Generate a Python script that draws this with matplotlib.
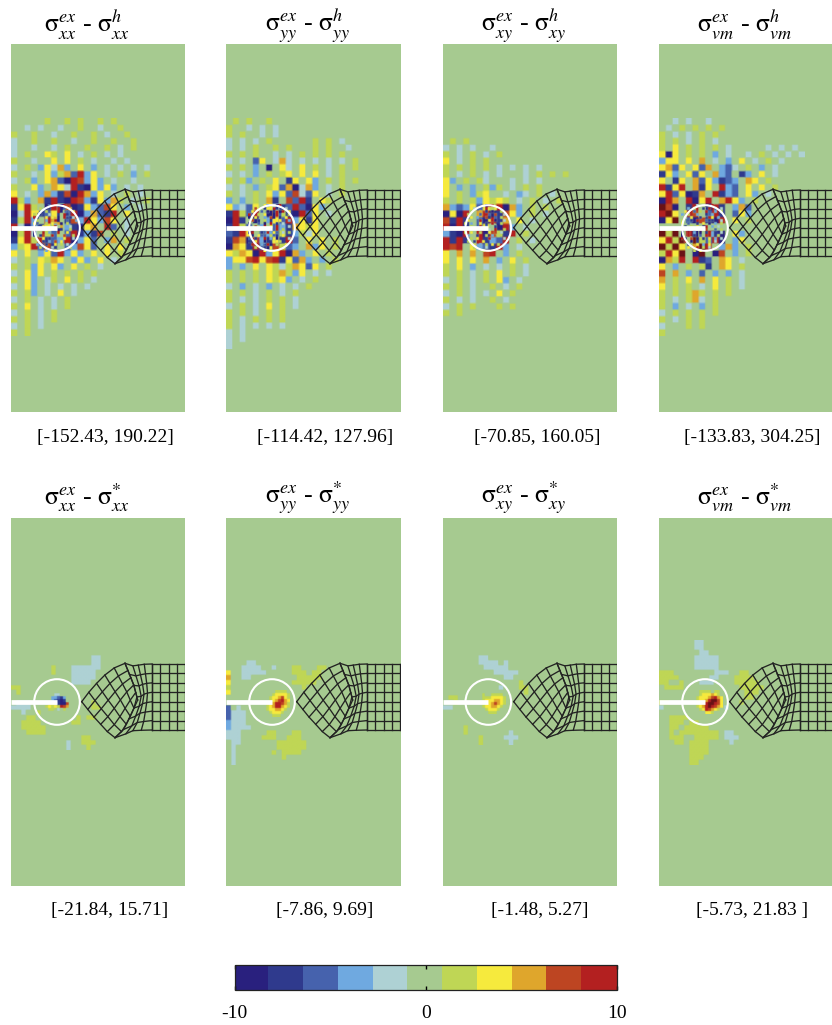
#!/usr/bin/env python3
"""Stress error maps: standard vs recovered stress on the cracked plate mesh."""

import matplotlib
matplotlib.use("Agg")
import matplotlib.pyplot as plt
import numpy as np
from matplotlib.cm import ScalarMappable
from matplotlib.colors import BoundaryNorm, ListedColormap

plt.rcParams["font.family"] = ["Liberation Serif", "DejaVu Serif"]
plt.rcParams["mathtext.fontset"] = "stix"

BAND_COLORS = ["#29207e", "#2f3a8d", "#4662ad", "#6fa9e0", "#aed1d4", "#a6ca90",
               "#bfd655", "#f6ea3d", "#dfa62c", "#bd4522", "#b32020"]
BAND_EDGES = np.linspace(-10, 10, 12)
COLORBAR_TICKS = [-10, 0, 10]
COLORBAR_LABELS = ["-10", "0", "10"]

SIGMA = r"\mathrm{\sigma}"
COMPONENTS = ["xx", "yy", "xy", "vm"]
TOP_TITLES = [rf"${SIGMA}_{{{c}}}^{{ex}}$ - ${SIGMA}_{{{c}}}^{{h}}$" for c in COMPONENTS]
BOTTOM_TITLES = [rf"${SIGMA}_{{{c}}}^{{ex}}$ - ${SIGMA}_{{{c}}}^{{*}}$" for c in COMPONENTS]
TOP_RANGES = ["[-152.43, 190.22]", "[-114.42, 127.96]", "[-70.85, 160.05]", "[-133.83, 304.25]"]
BOTTOM_RANGES = ["[-21.84, 15.71]", "[-7.86, 9.69]", "[-1.48, 5.27]", "[-5.73, 21.83 ]"]

# cell maps, one letter per element: a..e negative bands, . zero, f..j positive bands, k beyond +10
TOP_COARSE = [
    [
        ".....f..f.f..f.f",
        "..e.e..e..f..e..f",
        "f..f..e..f..f.e..f",
        "e..f..f..e..f..f..f",
        "e..e..e.f..f..f.e.f",
        "e.f..gf.g.e.f.e.e",
        "f..e..g.g.f.e..e.e",
        "e.f.dgehd.g.d.e.e.e.e",
        "f..e.gdfhcjdg.e.f.d.f",
        "e.fd.ghcajidgd.e..e",
        "f..gd.hgejbagdgd.e.e",
        "g.e.dhdbiajhdg.e.f.e",
        "jfd.hbjbajidbgdhf.e.f",
        "bgjf.aj.iabgdcig.d.e",
        "aejgbcg.cjadhcbj.g",
        "bfjd.jh.bidjgdig.e",
        "jeadbgd.dbagh.jc.e",
        "afje.fc.cjbdbi.f.e",
        "bgjfjbcdjadgc.dh.f",
        "dfgjcib.cdigc.g.g",
        "g.g.dgcjdgd.g.g.f",
        "e.f.gfhg.dgd.g.e",
        "f.fdg.gd.g.f.e",
        "e.gdg.f.f.f.f",
        "f.gd.ef.g.f.e",
        "e.gd.e.e.e.e",
        "f.fd.e.g.e",
        "e.f.e.e.f",
        "f.g.e.e.f",
        "e.f.e.f",
        "f.f.e.f",
        "e.f.e",
        "f.f",
    ],
    [
        ".f.f..f",
        "f..e.e.e",
        "f.f..e.e",
        "e.e.e.f......f.f.e",
        "e.e.f..f.f...f.f..e",
        "f.f.f..e.e.f.f.f.f",
        "e.e.cg.ehe.e.e.e.e.f",
        "f.f.d.a.ge.g.f.e.f.f",
        "e.e.d.f.fg.g.g.e.f",
        "f.fd.f.g.bg.gd.f.f.f",
        "e.e.d.fgchaehd.e.f",
        "f.e.f.gdgciecg.e.f",
        "d.d.f.hb.icjb.gf",
        "gdecg.gebcjcagd",
        "bjfcj.ajfbajcg.e",
        "ajb.a.dgcjdgbg",
        "bjfc.d.cdbhgfg.",
        "cbjg.cdcfbdfeg",
        "bihajdbgbjc.g.g.f",
        "ahgbjcaifcd.hdg.f",
        "gfhgajdgjahd.g.f",
        "dggijgijbgchd.d.f",
        "d.d.g.gfefhgcg.f",
        "f.f.f.gfhfdg.e.e",
        "f.f.f.gfgd.e.f",
        "e.d.e.d.e.e.f",
        "f.f.e.f.e.f",
        "f.e.e.f.f.e",
        "e.f.e.g.f.e",
        "f.f.e.f.f.",
        "f.e.f.f.f",
        "f.e.e.e.e",
        "e.e.",
        "e.e.",
        "e",
    ],
    [
        "",
        "",
        "",
        ".f.f",
        "e.e.e..e",
        "f.e.f.e.f",
        "g.e.f.f",
        "f.f.f.f.e.e.e.e",
        "f.e.f.e.e...e.f.f.f",
        "gd.f.fe...e.e.e",
        "g.d.d.fdf.e.f.f",
        "g.f.dfg..e.de.f.e",
        "f.f.fdgfgf.e.f.e.f",
        "hdcdgcgfjahd.f.f",
        "agaj.hjabigd.f.e",
        "ibjb.cajbh.g.e",
        "jajb.cg.ajd.e.",
        "dbaj.jaifbj.f",
        "jbjb.jbdcj.f.e",
        "jij.gdcbjd.e",
        "g.h.h.ij.d.f",
        "g.g.g.h.d.g.f",
        "f.g.d.e.e.f.e",
        "f.f.e.f.g.f.e",
        "e.f.e.f.gd.e",
        "f.f.e..f.e.f",
        "e.f.e.e.g.f",
        "f.e.e..f.e.",
        "e.f.f...f.f",
        "f.f.",
        "",
    ],
    [
        "..e.e..e",
        ".e.f.f.f.f",
        "f.e.e.f.f",
        "f.f.e.f.e",
        "f.g.f.f.f.e.....e.e.e.e",
        "gag.f.f.d.e..e.f.e.e.e",
        "dgg.g.h.e.d.g.e.f.e",
        "ghcg.gch.dce.f.d.e",
        "bgd.gcg.hdc.bd.g.e",
        "g.bg.hcgdbcd.hg.f",
        "jbgj.hbg.jdc.g.g.f",
        "gjcgabh.jbdc.gd.e",
        "ajh.jagj.hjgd.f",
        "kia.bj.ajb.dhc",
        "jkg.ji.cjb.cgd",
        "agk.caibaj.g.f",
        "",
        "kfk.ja.jba.gd",
        "gjfk.kfcja.dg",
        "kfkg.hkj.dhd.f",
        "fjgk.ak.ai.d.f",
        "ahfj.jbc.hg.e",
        "g.d.f.fb.hg.f",
        "i.h.d.c.d.d.e",
        "h.f.g.h.g.f.e",
        "g.f.f.e.g.f.e",
        "f.f.fhf.f.f",
        "f.e.fhe.f.",
        "f.d.e.d.f",
        "e.f.f.f.f",
        "f.e.f.f",
        "e...f.f",
        "f.",
    ],
]
TOP_FINE = [
    [
        ".....c..baj.....",
        "..f..b..jac.h...",
        ".g..f...ja.c.g..",
        "f.b..e..b.jb....",
        "jb..g.g.a.j.be..",
        ".f..d..ja..c..d.",
        "gc..f.g.ha.f....",
        "b..g..fj.h..e...",
        "j.d..g..ab..f...",
        "a..j.d..j..g....",
        "b.bi..j.f.i..f..",
        ".j.g.b..d.g..e..",
        "f..b.d.i.g......",
        ".d..b..g.f.e....",
        "..f...e.....f...",
        "....d..f........",
    ],
    [
        ".....gd..aj.....",
        "..i..b..jb..e...",
        ".g..c.a.b.aj.g..",
        "j..f.g..a.c..f..",
        "a.g..d.ia.b.g...",
        ".i.b.f.b..g..d..",
        "b..c.a.j.b.e....",
        "c.i..j.g.j.d.e..",
        ".a.g.c.a.j.f....",
        "bj..b.j.g..e.f..",
        ".a.g.c.f.b.g....",
        "c.b..j.d.a...e..",
        "b.g..a..g.f.....",
        ".j..d.j..f..g...",
        "..f..b.g........",
        ".....g.f........",
    ],
    [
        ".......aji......",
        "...e...j..g.....",
        "..f..h.b.a..f...",
        ".f...c..c.i..e..",
        "..g.d..ib.c.f...",
        ".g...j..g.a..e..",
        "f.d..g.b.j..f...",
        "..f..j.c..b.....",
        "g.......e.j..f..",
        "f.g..f..g.i.e...",
        ".d..b..f.d.f....",
        "..f.g...j....e..",
        ".f.b..g.........",
        "..g..d.f.g.f....",
        "...f...e........",
        "......f.........",
    ],
    [
        ".....e..a.j.....",
        "..d.f..b.j.c.e..",
        ".g..c.f.j..d.f..",
        "d.f..d..b.d.....",
        ".e.g..b..jg.d...",
        "f..b.j..c.b..e..",
        "g.c..b.g.a.d.f..",
        ".b.f.g.bj.d.e...",
        "j.a.b.j.i..c.f..",
        "b.j.d.a.b.d..e..",
        "a.j.b.c.j.d.f...",
        "jb.i.a.b.g.d.e..",
        ".j.a.b.f.f.e....",
        "..b..g.d.g......",
        "..g..j.f.e.f....",
        "....f.g.........",
    ],
]
BOTTOM_COARSE = [
    [
        "",
        "",
        "",
        "................ee",
        "................ee",
        "........f...eeeeee",
        "........f...eeeee",
        "............eeeee",
        "............eeee",
        "ff...............",
        ".f.",
        "",
        ".eee............f",
        "eeee....f.......ff",
        "..e..f...",
        "...ff........f.ff",
        "..ffff......ff",
        "..fffff",
        "...ffff",
        "..............ff",
        "...........e..fff",
        "...........e...f",
    ],
    [
        "",
        "",
        "",
        "",
        "....ee.......",
        "...eeee..e...ff...ff",
        "g..eeeee.....fff.ff",
        "h..ee.........fffff",
        "g............fffff",
        "f..............f",
        "g",
        "",
        "",
        "c.e",
        "ceee",
        "ceee",
        "deee",
        "deeee..",
        "eee.....ff...ff",
        "eee....fff..fff",
        ".ee.......ffffff",
        ".e........ffffff",
        ".e.......f.ffff",
        ".e.........f",
        ".e",
    ],
    [
        "",
        "",
        "",
        ".......ee",
        ".......eeee.e",
        "........eeeee",
        "..........eeeee",
        "............ee",
        "...............f",
        "...........e...ff",
        "................f",
        ".ff",
        "..f",
        "ee",
        "",
        "",
        "",
        "....f",
        "....f........e",
        ".......f....eee",
        ".......f.....e",
    ],
    [
        ".......ee",
        ".......ee",
        "........ee",
        ".......eeeee",
        ".......eeeee",
        ".......eeeee",
        "fff........eee..ff",
        "ffff......ee...ffff",
        "ff..f...eee....fffff",
        ".ffff...........fffff",
        ".................fff",
        ".................ff",
        "ff..............f",
        "e............e",
        ".",
        "..ffff",
        "..fff.ff.....",
        "..ff.fffff",
        "..f.ffffffff.ee",
        "..fff..fffff.eee",
        "...ff.ffff....e",
        "......ffff",
        "......ffff",
        "......fff",
        "......ff",
    ],
]
BOTTOM_FINE = [
    [
        "...........",
        "....ee.....",
        "...ddcbd...",
        "...dcbab...",
        "..fgebaai..",
        ".fgfgfjih..",
        "..ff.e.f...",
        "...........",
    ],
    [
        "......ffff.",
        ".....fggggf",
        "....fgghigf",
        "....fghijhg",
        "...fghjjihf",
        "...fghjjhgf",
        "...fgghhgf.",
        "....fgggf..",
        ".....fff...",
    ],
    [
        "...........",
        "...f..ffff.",
        "...fffggggf",
        "...fggghhgf",
        "...fgghihgf",
        "...fgghhgf.",
        "....fgggf..",
        ".....fff...",
    ],
    [
        "...ffff.ff.",
        "...fggghgf.",
        "..fggghijhg",
        "..fgghjkkig",
        "..fghjkkjig",
        "..fghjkjihg",
        "...fgjihgf.",
        ".....ggf...",
    ],
]

# mesh outline points, in pixels from the panel's top left corner
TIP_TO_UPPER = [(70.7, 183.7), (79, 172.7), (88, 162.7), (96.3, 154.7), (105, 148.7), (114, 145.3)]
TIP_TO_LOWER = [(70.7, 183.7), (77.3, 192), (84, 200.3), (91.3, 208), (97.3, 214.7), (104, 219.7)]
UPPER_TO_ELBOW = [(114, 145.3), (118.3, 156), (122.3, 165.3), (126.7, 182)]
LOWER_TO_ELBOW = [(104, 219.7), (112.3, 212), (118.3, 200.3), (126.7, 182)]
FAN_TOP = [(114, 145.3), (122.3, 148), (132.3, 146.3), (141, 146)]
FAN_BOTTOM = [(104, 219.7), (112.3, 217), (122.3, 212.5), (141, 212)]
FAN_LEFT = [(114, 145.3), (118.3, 156), (122.3, 165.3), (126.7, 182), (118.3, 200.3), (112.3, 212), (104, 219.7)]
FAN_RIGHT = [(141, 146), (141, 212)]
FAN_COLUMNS = [0, 0.3, 0.5, 0.72, 1]
BLOCK_TOP = [(141, 146), (174, 146)]
BLOCK_BOTTOM = [(141, 212), (174, 212)]
BLOCK_LEFT = FAN_RIGHT
BLOCK_RIGHT = [(174, 146), (174, 212)]
BLOCK_COLUMNS = [0, 0.25, 0.52, 0.76, 1]

PANEL_LEFTS = [11, 226, 443, 659]
PANEL_WIDTHS = [174, 175, 174, 174]
TOP_ROW_Y = 44
BOTTOM_ROW_Y = 518
TOP_RANGE_X = [105, 325, 537.5, 752]
BOTTOM_RANGE_X = [109.5, 325, 540, 752]
TITLE_X = [87, 308, 524, 745]
TIP_X = [46, 46, 45.3, 46]

FIG_W, FIG_H = 832, 1025
PANEL_H = 368
LEVELS = "abcde.fghijk"

cmap = ListedColormap(BAND_COLORS)
cmap.set_over("#6a1216")
cmap.set_bad(BAND_COLORS[5], 0)
norm = BoundaryNorm(BAND_EDGES, cmap.N)


def cell_values(rows, n_cols):
    grid = np.full((len(rows), n_cols), np.nan)
    for i, row in enumerate(rows):
        for j, ch in enumerate(row[:n_cols]):
            if ch != ".":
                grid[i, j] = (LEVELS.index(ch) - 5) * 20 / 11
    return np.ma.masked_invalid(grid)


def draw_cells(ax, rows, n_cols, x0, y0, size, upsample):
    values = cell_values(rows, n_cols)
    rgba = ScalarMappable(norm=norm, cmap=cmap).to_rgba(values)
    rgba = np.repeat(np.repeat(rgba, upsample, axis=0), upsample, axis=1)
    extent = (x0, x0 + size * n_cols, y0 + size * len(rows), y0)
    ax.imshow(rgba, extent=extent, interpolation="bilinear", aspect="auto", zorder=1)


def resample(points, fractions):
    pts = np.asarray(points, dtype=float)
    seg = np.hypot(*np.diff(pts, axis=0).T)
    dist = np.concatenate([[0], np.cumsum(seg)]) / seg.sum()
    return np.column_stack([np.interp(fractions, dist, pts[:, k]) for k in (0, 1)])


def coons_patch(top, bottom, left, right, u, v):
    """Blend four boundary polylines into grid nodes (rows along v, columns along u)."""
    t, b = resample(top, u), resample(bottom, u)
    l, r = resample(left, v), resample(right, v)
    nodes = np.zeros((len(v), len(u), 2))
    for i, vv in enumerate(v):
        for j, uu in enumerate(u):
            nodes[i, j] = (
                (1 - vv) * t[j] + vv * b[j] + (1 - uu) * l[i] + uu * r[i]
                - ((1 - uu) * (1 - vv) * t[0] + uu * (1 - vv) * t[-1]
                   + (1 - uu) * vv * b[0] + uu * vv * b[-1])
            )
    return nodes


def draw_mesh(ax):
    even = np.linspace(0, 1, 6)
    rows = np.linspace(0, 1, 8)
    patches = [
        coons_patch(TIP_TO_UPPER, LOWER_TO_ELBOW, TIP_TO_LOWER, UPPER_TO_ELBOW, even, even),
        coons_patch(FAN_TOP, FAN_BOTTOM, FAN_LEFT, FAN_RIGHT, np.array(FAN_COLUMNS), rows),
        coons_patch(BLOCK_TOP, BLOCK_BOTTOM, BLOCK_LEFT, BLOCK_RIGHT, np.array(BLOCK_COLUMNS), rows),
    ]
    for nodes in patches:
        ax.plot(nodes[:, :, 0], nodes[:, :, 1], color="#222222", lw=0.95, zorder=3)
        ax.plot(nodes[:, :, 0].T, nodes[:, :, 1].T, color="#222222", lw=0.95, zorder=3)


def panel_axes(fig, left, top, width):
    ax = fig.add_axes([left / FIG_W, 1 - (top + PANEL_H) / FIG_H, width / FIG_W, PANEL_H / FIG_H])
    ax.set_xlim(0, width)
    ax.set_ylim(PANEL_H, 0)
    ax.set_autoscale_on(False)
    ax.axis("off")
    ax.add_patch(plt.Rectangle((0, 0), width, PANEL_H, color=BAND_COLORS[5], lw=0, zorder=0))
    return ax


def decorate(ax, tip_x):
    draw_mesh(ax)
    ax.plot([0, tip_x], [184, 184], color="white", lw=3.4, solid_capstyle="butt", zorder=4)
    ax.add_patch(plt.Circle((tip_x, 184), 22.8, fill=False, ec="white", lw=1.5, zorder=5))


def main():
    fig = plt.figure(figsize=(FIG_W / 100, FIG_H / 100), dpi=100, facecolor="white")
    for k, left in enumerate(PANEL_LEFTS):
        ax = panel_axes(fig, left, TOP_ROW_Y, PANEL_WIDTHS[k])
        draw_cells(ax, TOP_COARSE[k], 22, 0, 74, 6.6, 3)
        draw_cells(ax, TOP_FINE[k], 16, TIP_X[k] - 24, 160, 3, 2)
        decorate(ax, TIP_X[k])

        ax = panel_axes(fig, left, BOTTOM_ROW_Y, PANEL_WIDTHS[k])
        draw_cells(ax, BOTTOM_COARSE[k], 26, 0, 122, 5, 3)
        draw_cells(ax, BOTTOM_FINE[k], 11, TIP_X[k] - 15, 172, 3, 2)
        decorate(ax, TIP_X[k])

        fig.text(TITLE_X[k] / FIG_W, 1 - 25 / FIG_H, TOP_TITLES[k], fontsize=18.5, ha="center", va="center")
        fig.text(TITLE_X[k] / FIG_W, 1 - 498 / FIG_H, BOTTOM_TITLES[k], fontsize=18.5, ha="center", va="center")
        fig.text(TOP_RANGE_X[k] / FIG_W, 1 - 438 / FIG_H, TOP_RANGES[k], fontsize=14, ha="center", va="center")
        fig.text(BOTTOM_RANGE_X[k] / FIG_W, 1 - 911 / FIG_H, BOTTOM_RANGES[k], fontsize=14, ha="center", va="center")

    cax = fig.add_axes([234.5 / FIG_W, 1 - 989.5 / FIG_H, 382.5 / FIG_W, 25 / FIG_H])
    cbar = fig.colorbar(ScalarMappable(norm=norm, cmap=cmap), cax=cax, orientation="horizontal",
                        ticks=COLORBAR_TICKS, spacing="proportional")
    cbar.minorticks_off()
    cbar.solids.set_edgecolor("face")
    cbar.dividers.set_visible(False)
    cbar.ax.set_xticklabels(COLORBAR_LABELS, fontsize=14)
    cbar.ax.tick_params(axis="x", which="major", direction="in", length=3, width=1, top=True, pad=11)
    cbar.outline.set_linewidth(0.9)
    cbar.outline.set_edgecolor("#222222")
    fig.savefig("out.png", dpi=100)


if __name__ == "__main__":
    main()
